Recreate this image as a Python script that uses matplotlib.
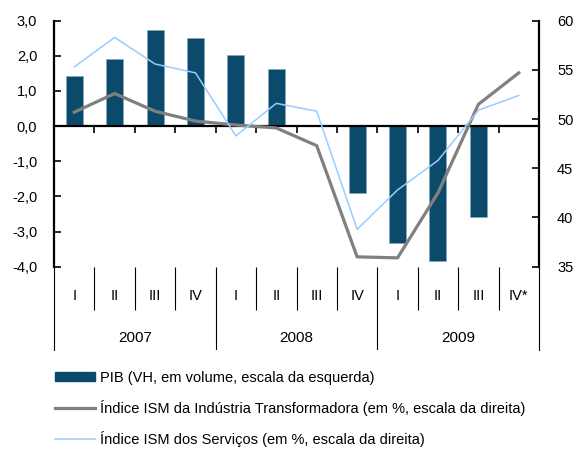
import numpy as np
import matplotlib
matplotlib.use("Agg")
import matplotlib.pyplot as plt
import matplotlib.patches as mpatches
import matplotlib.lines as mlines
from matplotlib.ticker import FuncFormatter

plt.rcParams['font.family'] = ['Liberation Sans', 'DejaVu Sans']

# Data
quarters = ["I", "II", "III", "IV", "I", "II", "III", "IV", "I", "II", "III", "IV*"]
years = ["2007", "2008", "2009"]
pib = [1.42, 1.90, 2.73, 2.52, 2.03, 1.63, 0.0, -1.90, -3.32, -3.85, -2.59, np.nan]
ism_ind = [50.7, 52.6, 50.8, 49.8, 49.4, 49.1, 47.3, 36.0, 35.9, 42.5, 51.5, 54.7]
ism_serv = [55.3, 58.3, 55.6, 54.7, 48.3, 51.6, 50.8, 38.8, 42.8, 45.8, 50.9, 52.4]

bar_col = '#0c4a6b'
ind_col = '#808080'
serv_col = '#99ccff'

fig = plt.figure(figsize=(5.76, 4.49), dpi=100)
ax = fig.add_axes([54/576, 1-266.7/449, 485/576, 246/449])
x = np.arange(len(quarters)) + 0.5

# Bars (left scale)
ax.bar(x, pib, width=0.42, color=bar_col, edgecolor='#7fa8c4', linewidth=0.4, zorder=2)
ax.set_xlim(0, 12)
ax.set_ylim(-4, 3)
ax.set_yticks(np.arange(-4, 3.1, 1))
ax.yaxis.set_major_formatter(FuncFormatter(lambda v, p: f"{v:.1f}".replace('.', ',')))
ax.tick_params(axis='y', direction='in', length=5, width=1.2, pad=12, labelsize=10.5)
ax.spines['top'].set_visible(False)
ax.spines['right'].set_visible(False)
ax.spines['left'].set_linewidth(1.6)
ax.spines['bottom'].set_position(('data', 0))
ax.spines['bottom'].set_linewidth(1.6)
ax.spines['bottom'].set_zorder(3)
ax.set_xticks(np.arange(1, 12))
ax.tick_params(axis='x', direction='out', length=5, width=1.2, labelbottom=False)

# Lines (right scale)
ax2 = ax.twinx()
ax2.plot(x, ism_ind, color=ind_col, lw=2.3, zorder=3)
ax2.plot(x, ism_serv, color=serv_col, lw=1.1, zorder=3)
ax2.set_ylim(35, 60)
ax2.set_yticks(np.arange(35, 61, 5))
ax2.tick_params(axis='y', direction='in', length=5, width=1.2, pad=13, labelsize=10.5)
for s in ['top', 'left', 'bottom']:
    ax2.spines[s].set_visible(False)
ax2.spines['right'].set_linewidth(1.6)

# Category label area
lab = fig.add_axes([54/576, 1-350/449, 485/576, 83.3/449])
lab.set_xlim(0, 12)
lab.set_ylim(0, 1)
lab.set_xticks([])
lab.set_yticks([])
lab.patch.set_alpha(0)
for s in ['top', 'bottom']:
    lab.spines[s].set_visible(False)
for s in ['left', 'right']:
    lab.spines[s].set_linewidth(0.8)
for b in range(1, 12):
    if b % 4 == 0:
        lab.vlines(b, 0, 1, color='black', lw=0.8)
    else:
        lab.vlines(b, 0.48, 1, color='black', lw=0.8)
for xi, q in zip(x, quarters):
    lab.text(xi, 0.645, q, ha='center', va='center', fontsize=10.5)
for i, yr in enumerate(years):
    lab.text(4*i + 2, 0.145, yr, ha='center', va='center', fontsize=11)

# Legend
h_bar = mpatches.Patch(color=bar_col, label="PIB (VH, em volume, escala da esquerda)")
h_ind = mlines.Line2D([], [], color=ind_col, lw=2.3,
                      label="Índice ISM da Indústria Transformadora (em %, escala da direita)")
h_serv = mlines.Line2D([], [], color=serv_col, lw=1.1,
                       label="Índice ISM dos Serviços (em %, escala da direita)")
leg = fig.legend(handles=[h_bar, h_ind, h_serv], loc='upper left',
                 bbox_to_anchor=(55/576, 1-371/449), frameon=False, fontsize=10.5,
                 handlelength=2.75, handleheight=0.55, handletextpad=0.33,
                 labelspacing=1.02, borderaxespad=0, borderpad=0)

fig.savefig('out.png', dpi=100)
